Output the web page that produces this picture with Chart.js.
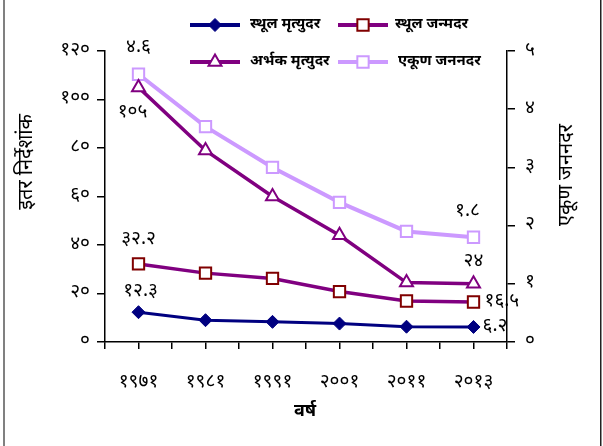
<!DOCTYPE html>
<html>
<head>
<meta charset="utf-8">
<script src="https://cdn.jsdelivr.net/npm/chart.js@4.4.1/dist/chart.umd.min.js"></script>
<style>
html,body{margin:0;padding:0;background:#fff;}
#wrap{position:relative;width:603px;height:446px;}
</style>
</head>
<body>
<div id="wrap"><canvas id="c" width="603" height="446"></canvas></div>
<script>
// ---- data ----
const years = ['१९७१', '१९८१', '१९९१', '२००१', '२०११', '२०१३'];
const crudeDeathRate = [12.3, 9.0, 8.3, 7.6, 6.3, 6.2];
const crudeBirthRate = [32.2, 28.4, 26.2, 20.8, 16.9, 16.5];
const infantMortality = [105, 79, 60, 44, 24.5, 24];
const totalFertility = [4.6, 3.7, 3.0, 2.4, 1.9, 1.8];
const seriesNames = ['स्थूल मृत्युदर', 'स्थूल जन्मदर', 'अर्भक मृत्युदर', 'एकूण जननदर'];
const leftTicks = [0, 20, 40, 60, 80, 100, 120];
const rightTicks = [0, 1, 2, 3, 4, 5];
const labelsDeath = ['१२.३', '६.२'];
const labelsBirth = ['३२.२', '१६.५'];
const labelsIMR = ['१०५', '२४'];
const labelsTFR = ['४.६', '१.८'];

const devDigits = '०१२३४५६७८९';
function toDev(n){ return String(n).replace(/[0-9]/g, d => devDigits[+d]); }
const FONT = '"Noto Sans Devanagari","Noto Sans","Lohit Devanagari",sans-serif';

function pts(arr){ return arr.map((v,i)=>({x:i,y:v})); }

const datasets = [
  {label: seriesNames[0], data: pts(crudeDeathRate), yAxisID:'y', borderColor:'#000080', backgroundColor:'#000080',
   borderWidth:3, pointStyle:'rectRot', pointRadius:6.5, pointBorderColor:'#000080', pointBackgroundColor:'#000080', pointBorderWidth:1},
  {label: seriesNames[1], data: pts(crudeBirthRate), yAxisID:'y', borderColor:'#800080', backgroundColor:'#800080',
   borderWidth:3.5, pointStyle:'rect', pointRadius:8, pointBorderColor:'#800000', pointBackgroundColor:'#ffffff', pointBorderWidth:2},
  {label: seriesNames[2], data: pts(infantMortality), yAxisID:'y', borderColor:'#800080', backgroundColor:'#800080',
   borderWidth:3.5, pointStyle:'triangle', pointRadius:7.5, pointBorderColor:'#800080', pointBackgroundColor:'#ffffff', pointBorderWidth:2},
  {label: seriesNames[3], data: pts(totalFertility), yAxisID:'y1', borderColor:'#CC99FF', backgroundColor:'#CC99FF',
   borderWidth:4, pointStyle:'rect', pointRadius:8, pointBorderColor:'#CC99FF', pointBackgroundColor:'#ffffff', pointBorderWidth:2}
];

function drawMarker(ctx, ds, x, y){
  ctx.save();
  ctx.lineWidth = ds.pointBorderWidth;
  ctx.strokeStyle = ds.pointBorderColor;
  ctx.fillStyle = ds.pointBackgroundColor;
  const r = ds.pointRadius;
  ctx.beginPath();
  if (ds.pointStyle === 'rectRot'){
    ctx.moveTo(x, y-r); ctx.lineTo(x+r, y); ctx.lineTo(x, y+r); ctx.lineTo(x-r, y); ctx.closePath();
  } else if (ds.pointStyle === 'rect'){
    const s = r*Math.SQRT1_2; ctx.rect(x-s, y-s, 2*s, 2*s);
  } else if (ds.pointStyle === 'triangle'){
    ctx.moveTo(x, y - r);
    ctx.lineTo(x + Math.sin(Math.PI*2/3)*r, y + r/2);
    ctx.lineTo(x - Math.sin(Math.PI*2/3)*r, y + r/2);
    ctx.closePath();
  }
  ctx.fill(); ctx.stroke();
  ctx.restore();
}

const extras = {
  id:'extras',
  afterDraw(chart){
    const ctx = chart.ctx;
    ctx.save();
    // frame lines
    ctx.fillStyle = '#808080'; ctx.fillRect(3, 0, 2, 446);
    ctx.fillStyle = '#222'; ctx.fillRect(600, 0, 1.5, 446);

    // legend
    const leg = [
      {ds:0, x1:190, x2:240, y:25, tx:250},
      {ds:1, x1:338, x2:388, y:25, tx:395},
      {ds:2, x1:190, x2:240, y:62, tx:250},
      {ds:3, x1:338, x2:388, y:62, tx:398}
    ];
    leg.forEach(l=>{
      const ds = datasets[l.ds];
      ctx.strokeStyle = ds.borderColor; ctx.lineWidth = 4;
      ctx.beginPath(); ctx.moveTo(l.x1, l.y); ctx.lineTo(l.x2, l.y); ctx.stroke();
      drawMarker(ctx, ds, (l.x1+l.x2)/2, l.y);
      ctx.fillStyle = '#000'; ctx.font = 'bold 15px ' + FONT;
      ctx.textAlign = 'left'; ctx.textBaseline = 'middle';
      ctx.fillText(seriesNames[l.ds], l.tx, l.y);
    });

    // data labels
    ctx.font = '19px ' + FONT; ctx.fillStyle = '#000'; ctx.textBaseline = 'middle';
    const P = (d,i)=>chart.getDatasetMeta(d).data[i];
    const last = years.length-1;
    ctx.textAlign = 'center';
    ctx.fillText(labelsDeath[0], P(0,0).x+2, P(0,0).y-20);
    ctx.fillText(labelsBirth[0], P(1,0).x, P(1,0).y-23);
    ctx.fillText(labelsIMR[0], P(2,0).x-6, P(2,0).y+26);
    ctx.fillText(labelsIMR[1], P(2,last).x, P(2,last).y-21);
    ctx.fillText(labelsTFR[0], P(3,0).x, P(3,0).y-26);
    ctx.fillText(labelsTFR[1], P(3,last).x-6, P(3,last).y-25);
    ctx.textAlign = 'left';
    ctx.fillText(labelsDeath[1], P(0,last).x+9, P(0,last).y);
    ctx.fillText(labelsBirth[1], P(1,last).x+11, P(1,last).y);

    // axis titles
    ctx.fillStyle = '#000';
    ctx.font = '20px ' + FONT; ctx.textAlign = 'center';
    ctx.save(); ctx.translate(28, 162); ctx.rotate(-Math.PI/2); ctx.fillText('इतर निर्देशांक', 0, 0); ctx.restore();
    ctx.save(); ctx.translate(568, 175); ctx.rotate(-Math.PI/2); ctx.fillText('एकूण जननदर', 0, 0); ctx.restore();
    ctx.font = 'bold 18px ' + FONT;
    ctx.fillText('वर्ष', 305, 413);
    ctx.restore();
  }
};

const axisCommon = {
  grid:{drawOnChartArea:false, drawTicks:true, tickLength:8, color:'#000', lineWidth:1.5},
  border:{color:'#000', width:1.5}
};

new Chart(document.getElementById('c'), {
  type:'line',
  data:{datasets},
  options:{
    responsive:false, animation:false,
    layout:{padding:{top:51, left:0, right:0, bottom:0}},
    plugins:{legend:{display:false}, tooltip:{enabled:false}},
    scales:{
      x:{type:'linear', min:-0.5, max:5.5, ...axisCommon,
         grid:{...axisCommon.grid, tickLength:7},
         afterBuildTicks(s){ s.ticks = []; for(let k=0;k<=12;k++) s.ticks.push({value:-0.5+0.5*k}); },
         afterFit(s){ s.height = 446-342; },
         ticks:{autoSkip:false, maxRotation:0, padding:23, color:'#000', font:{family:FONT, size:19},
                callback:(v)=> Number.isInteger(v) ? years[v] : ''}},
      y:{type:'linear', position:'left', min:0, max:120, ...axisCommon,
         afterBuildTicks(s){ s.ticks = leftTicks.map(v=>({value:v})); },
         afterFit(s){ s.width = 105; },
         ticks:{padding:7, color:'#000', font:{family:FONT, size:19}, callback:(v)=>toDev(v)}},
      y1:{type:'linear', position:'right', min:0, max:5, ...axisCommon,
         afterBuildTicks(s){ s.ticks = rightTicks.map(v=>({value:v})); },
         afterFit(s){ s.width = 603-507; },
         ticks:{padding:10, color:'#000', font:{family:FONT, size:19}, callback:(v)=>toDev(v)}}
    }
  },
  plugins:[extras]
});
</script>
</body>
</html>
